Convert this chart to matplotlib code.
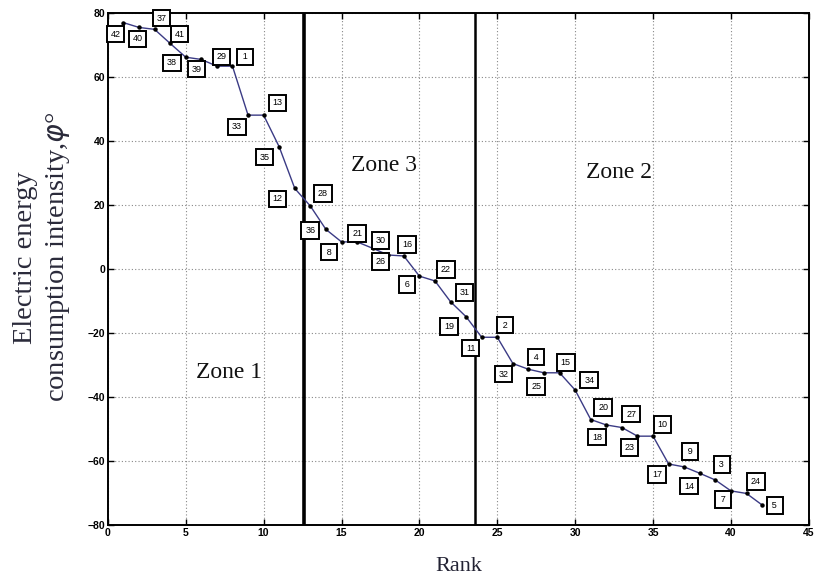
import numpy as np
import matplotlib
matplotlib.use("Agg")
import matplotlib.pyplot as plt

# rank of each plant and its intensity value
rank = np.arange(1, 43)
intensity = [76.9, 75.4, 74.8, 70.4, 66.1, 65.4, 63.3, 63.3, 48.0, 48.0,
             38.1, 25.1, 19.6, 12.3, 8.4, 8.4, 6.4, 4.3, 4.0, -2.3,
             -3.8, -10.3, -15.0, -21.4, -21.4, -29.6, -31.4, -32.5, -32.5, -37.9,
             -47.1, -48.8, -49.6, -52.3, -52.3, -61.0, -61.9, -63.9, -66.0, -69.4,
             -70.2, -73.8]
plant_id = [42, 40, 37, 41, 38, 39, 29, 1, 33, 13,
            35, 12, 28, 36, 8, 21, 30, 26, 16, 6,
            22, 31, 19, 11, 2, 32, 4, 25, 15, 34,
            20, 18, 27, 23, 10, 17, 9, 14, 3, 7,
            24, 5]

# label box offsets from each point (data units)
lab_dx = [-0.5, -0.1, 0.45, 0.6, -0.9, -0.3, 0.3, 0.8, -0.7, 0.9,
          -0.95, -1.1, 0.8, -1.0, -0.8, 0.0, 0.5, -0.5, 0.2, -0.8,
          0.7, 0.9, -1.1, -0.7, 0.5, -0.6, 0.5, -0.5, 0.4, 0.9,
          0.8, -0.6, 0.6, -0.5, 0.6, -0.75, 0.4, -0.7, 0.4, -0.5,
          0.6, 0.8]
lab_dy = [-3.6, -3.6, 3.5, 2.9, -1.8, -3.0, 2.9, 2.9, -3.7, 3.8,
          -3.2, -3.3, 4.0, -0.3, -3.2, 2.7, 2.5, -2.0, 3.6, -2.6,
          3.6, 2.9, -3.0, -3.4, 3.8, -3.3, 3.8, -4.2, 3.3, 3.1,
          3.8, -3.8, 4.2, -3.5, 3.7, -3.2, 4.8, -4.0, 4.8, -2.7,
          3.7, -0.2]

zone_bounds = [12.6, 23.6]
zone_names = ["Zone 1", "Zone 3", "Zone 2"]
zone_pos = [(7.75, -32.3), (17.7, 32.4), (32.8, 30.2)]

fig = plt.figure(figsize=(8.17, 5.78), dpi=100)
ax = fig.add_axes([0.132, 0.092, 0.858, 0.886])

ax.plot(rank, intensity, color="#3b3b85", linewidth=1.0, zorder=3)
ax.plot(rank, intensity, "o", color="black", markersize=2.2, zorder=4)

for x, y, t, dx, dy in zip(rank, intensity, plant_id, lab_dx, lab_dy):
    s = str(t) if t >= 10 else "\u2009" + str(t) + "\u2009"
    ax.text(x + dx, y + dy, s, ha="center", va="center", fontsize=6.5,
            family="Liberation Sans", zorder=5,
            bbox=dict(boxstyle="square,pad=0.42", fc="white", ec="black", lw=1.4))

ax.axvline(zone_bounds[0], color="black", linewidth=2.6, zorder=2)
ax.axvline(zone_bounds[1], color="black", linewidth=1.8, zorder=2)

for name, (zx, zy) in zip(zone_names, zone_pos):
    ax.text(zx, zy, name, ha="center", va="center", fontsize=17,
            family="Liberation Serif", color="#111111")

ax.set_xlim(0, 45)
ax.set_ylim(-80, 80)
ax.set_xticks(np.arange(0, 46, 5))
ax.set_yticks(np.arange(-80, 81, 20))
ax.grid(True, linestyle=(0, (1, 2)), color="#888888", linewidth=0.8)
ax.tick_params(direction="in", length=4, width=1, labelsize=7.5, pad=2,
               top=True, right=True)
for lbl in ax.get_xticklabels() + ax.get_yticklabels():
    lbl.set_fontweight("bold")
    lbl.set_family("Liberation Sans")
for s in ax.spines.values():
    s.set_linewidth(1.4)

ax.set_xlabel("Rank", fontsize=16, family="Liberation Serif", color="#222233", labelpad=14)
fig.text(0.052, 0.555, "Electric energy\nconsumption intensity,$\\varphi$°",
         rotation=90, ha="center", va="center", multialignment="center",
         fontsize=20.5, family="Liberation Serif", color="#2a2a3a", linespacing=1.3)

fig.savefig("out.png", dpi=100)
